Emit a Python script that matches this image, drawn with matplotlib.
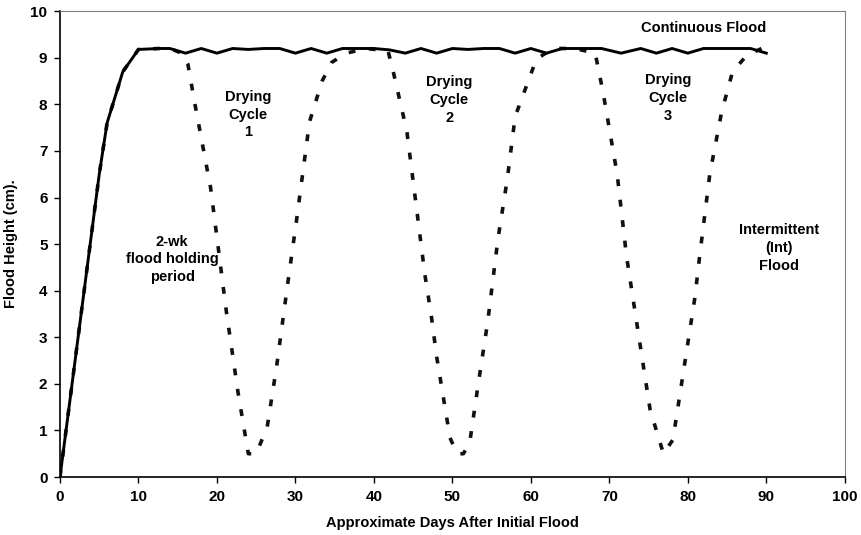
import numpy as np
import matplotlib.pyplot as plt

plt.rcParams['font.family'] = ['Liberation Sans', 'DejaVu Sans']
plt.rcParams['font.weight'] = 'bold'

# continuous flood
cont_days = [0, 3, 5, 6, 8, 10, 12.7, 14, 16, 18, 20, 22, 24, 26, 28, 30, 32, 34, 36,
             38, 40, 42, 44, 46, 48, 50, 52, 54, 56, 58, 60, 62, 64, 66, 69, 71.5,
             74, 76, 78, 80, 82, 84, 86, 88, 90]
cont_h = [0, 3.9, 6.5, 7.6, 8.7, 9.18, 9.2, 9.2, 9.1, 9.2, 9.1, 9.2, 9.18, 9.2, 9.2,
          9.1, 9.2, 9.1, 9.2, 9.2, 9.2, 9.17, 9.1, 9.2, 9.1, 9.2, 9.18, 9.2, 9.2, 9.1,
          9.2, 9.1, 9.2, 9.2, 9.2, 9.1, 9.2, 9.1, 9.2, 9.1, 9.2, 9.2, 9.2, 9.2, 9.1]

# intermittent flood
int_days = [0, 3, 5, 6, 8, 10, 12.7, 14, 15.5, 16.3, 17.2, 18.2, 19.2, 21.2, 22.7, 24,
            25, 26.4, 27.6, 29, 30.1, 31.8, 33.4, 34.6, 36.5, 39, 41.8, 42.4, 44.2,
            45.5, 46.5, 47.3, 48, 49.7, 50.6, 51.4, 52.2, 53.3, 54.5, 55.8, 57, 58,
            60.7, 62.8, 65.6, 68.2, 69.2, 71, 72.2, 73, 75.2, 76.9, 78.1, 80.9, 81.5,
            82.8, 84.3, 85.7, 87.5, 89.4, 90]
int_h = [0, 3.9, 6.5, 7.6, 8.7, 9.18, 9.2, 9.2, 9.1, 8.86, 8.0, 7.1, 6.2, 3.55, 1.8, 0.5,
         0.5, 1.07, 2.37, 4.13, 5.46, 7.63, 8.5, 8.9, 9.1, 9.2, 9.15, 8.75, 7.42,
         5.68, 4.34, 3.48, 2.58, 0.84, 0.5, 0.5, 0.73, 2.0, 3.33, 5.1, 6.4, 7.74,
         8.97, 9.2, 9.2, 9.1, 8.26, 6.5, 4.73, 3.85, 1.44, 0.5, 0.8, 3.85, 4.73,
         6.5, 7.83, 8.7, 9.05, 9.2, 9.2]

fig = plt.figure(figsize=(8.62, 5.35), dpi=100)
ax = fig.add_axes([0.0696, 0.1084, 0.9104, 0.8706])

ax.plot(int_days, int_h, color='#111111', lw=2.6, dashes=(1.9, 3.8))
ax.plot(cont_days, cont_h, color='black', lw=2.1)

ax.set_xlim(0, 100)
ax.set_ylim(0, 10)
ax.set_xticks(np.arange(0, 101, 10))
ax.set_yticks(np.arange(0, 11, 1))
ax.tick_params(labelsize=11, length=4, width=1, pad=5)
for lab in ax.get_xticklabels() + ax.get_yticklabels():
    lab.set_fontweight('bold')

ax.spines['left'].set_linewidth(1.2)
ax.spines['bottom'].set_linewidth(1.2)
ax.spines['top'].set_color('#808080')
ax.spines['right'].set_color('#808080')

ax.set_xlabel('Approximate Days After Initial Flood', fontsize=10.5, fontweight='bold', labelpad=9)
ax.set_ylabel('Flood Height (cm).', fontsize=10.5, fontweight='bold', labelpad=9)

kw = dict(ha='center', va='center', fontsize=10.5, fontweight='bold', linespacing=1.35)
ax.text(82, 9.65, 'Continuous Flood', **kw)
ax.text(24.0, 7.78, 'Drying\nCycle\n1', **kw)
ax.text(49.6, 8.1, 'Drying\nCycle\n2', **kw)
ax.text(77.5, 8.13, 'Drying\nCycle\n3', **kw)
ax.text(14.3, 4.67, '2-wk\nflood holding\nperiod', **kw)
ax.text(91.6, 4.92, 'Intermittent\n(Int)\nFlood', **kw)

fig.savefig('out.png', dpi=100)
